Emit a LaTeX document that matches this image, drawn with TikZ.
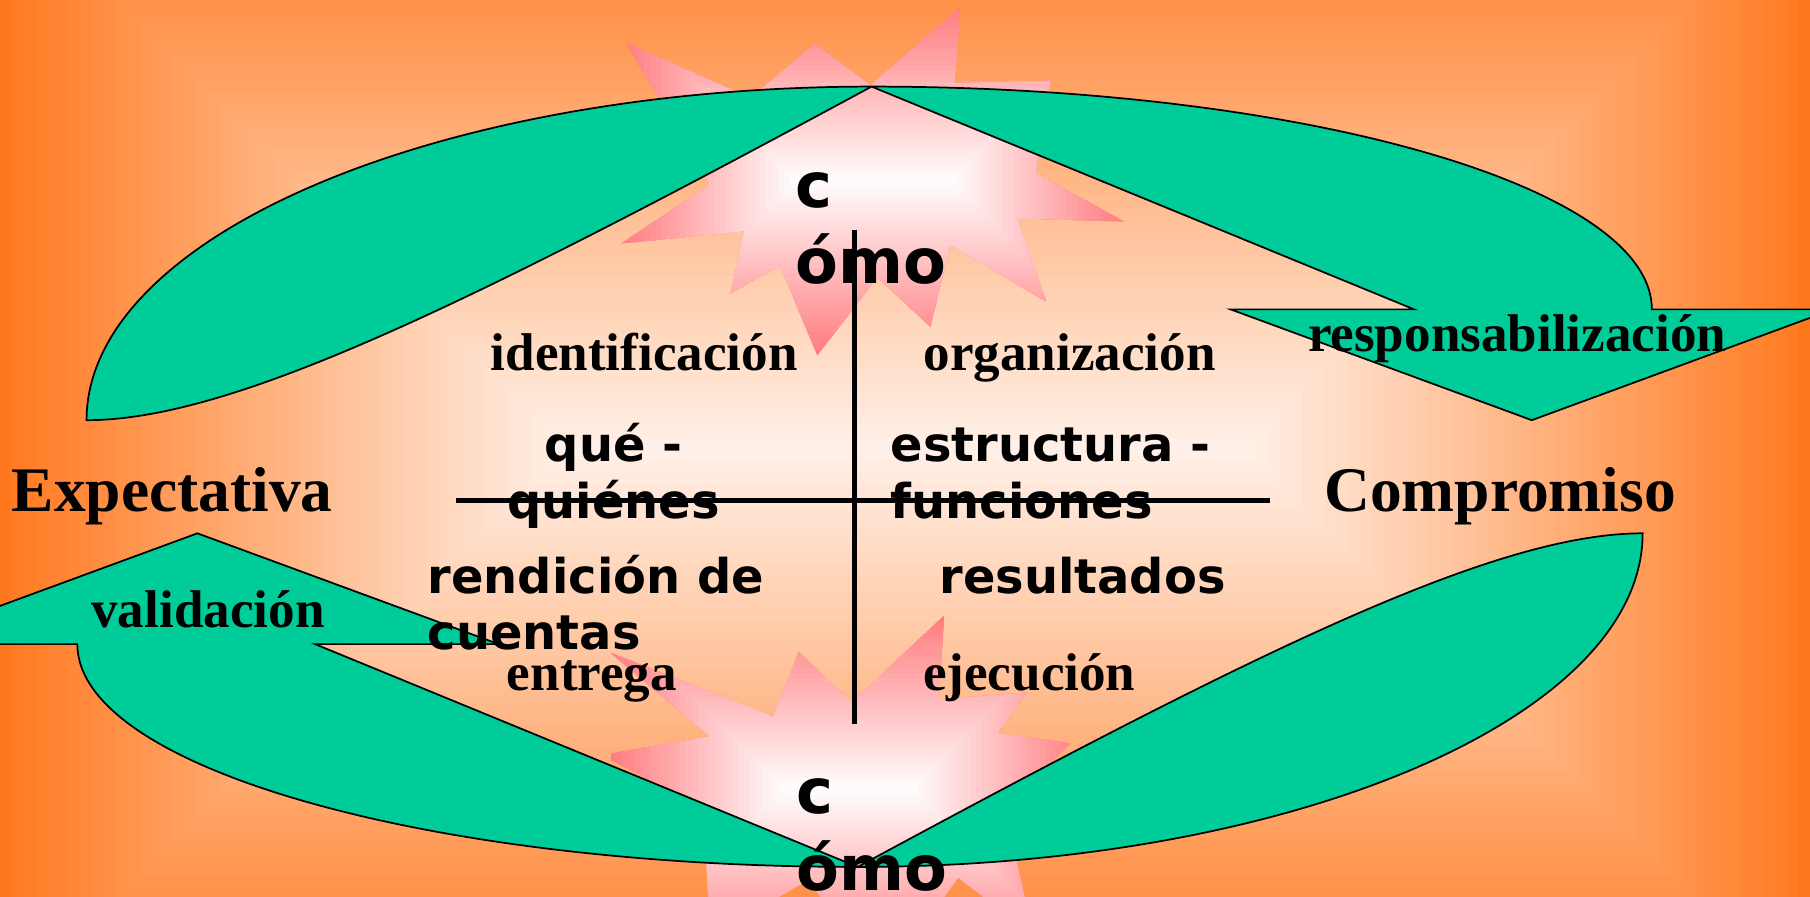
\documentclass[tikz,border=0pt]{standalone}
\usepackage{fontspec}
\setmainfont{Liberation Serif}
\newfontfamily\dejavu{DejaVu Sans}
\definecolor{edgeC}{RGB}{255,120,30}
\definecolor{centerC}{RGB}{255,242,234}
\definecolor{pinkC}{RGB}{255,125,128}
\definecolor{greenC}{RGB}{0,204,153}
\tikzset{
  serifbig/.style={font=\fontsize{55}{60}\selectfont\bfseries, inner sep=0pt, anchor=base west},
  serifmid/.style={font=\fontsize{46}{50}\selectfont\bfseries, inner sep=0pt, anchor=base west},
  sansmid/.style={font=\dejavu\fontsize{41.5}{49}\selectfont\bfseries, inner sep=0pt, anchor=base west},
  sansbig/.style={font=\dejavu\fontsize{54}{66}\selectfont\bfseries, inner sep=0pt, anchor=base west},
  arrowshape/.style={fill=greenC, draw=black, line width=1.5pt, line join=miter},
  crossline/.style={line width=4.5pt, black},
}
\begin{document}
\begin{tikzpicture}[x=1pt,y=-1pt]
\useasboundingbox (0,0) rectangle (1568,777);
\clip (0,0) rectangle (1568,777);
% background rectangular gradient
\foreach \i in {0,...,49} {
  \pgfmathsetmacro\k{-101+\i*10}
  \pgfmathtruncatemacro\p{100-\i*100/49}
  \fill[edgeC!\p!centerC] ({101+\k},{\k}) rectangle ({1467-\k},{777-\k});
}
% top star
\begin{scope}
  \clip (706,38) -- (754,74) -- (832,6) -- (827,72) -- (910,70) -- (897,150)
    -- (974,192) -- (881,189) -- (906,261) -- (823,212) -- (806,283) -- (760,240)
    -- (708,308) -- (676,230) -- (633,254) -- (645,200) -- (538,211) -- (615,160)
    -- (542,37) -- (650,85) -- cycle;
  \foreach \i in {0,...,30} {
    \pgfmathsetmacro\d{\i*151/30}
    \pgfmathtruncatemacro\p{100-\i*100/30}
    \fill[pinkC!\p!white] ({756-218+\d},{157-151+\d}) rectangle ({756+218-\d},{157+151-\d});
  }
\end{scope}
% bottom star
\begin{scope}
  \clip (692,565) -- (738,609) -- (818,533) -- (813,606) -- (890,600) -- (864,635)
    -- (927,644) -- (870,700) -- (895,810) -- (830,760) -- (765,850) -- (700,762)
    -- (615,812) -- (610,700) -- (521,654) -- (615,638) -- (528,565) -- (670,621) -- cycle;
  \foreach \i in {0,...,30} {
    \pgfmathsetmacro\d{\i*151/30}
    \pgfmathtruncatemacro\p{100-\i*100/30}
    \fill[pinkC!\p!white] ({735-206+\d},{684-151+\d}) rectangle ({735+206-\d},{684+151-\d});
  }
\end{scope}
% top curved arrow
\path[arrowshape] (75,364) .. controls (75,204.4) and (379.4,75) .. (755,75)
  .. controls (1128.4,75) and (1431,161.4) .. (1431,268)
  -- (1588,268) -- (1327,364) -- (1066,268) -- (1225,268) -- (755,75)
  .. controls (400,267) and (200,364) .. (75,364) -- cycle;
% bottom curved arrow (same shape turned round)
\begin{scope}[rotate around={180:(749,413)}]
\path[arrowshape] (75,364) .. controls (75,204.4) and (379.4,75) .. (755,75)
  .. controls (1128.4,75) and (1431,161.4) .. (1431,268)
  -- (1588,268) -- (1327,364) -- (1066,268) -- (1225,268) -- (755,75)
  .. controls (400,267) and (200,364) .. (75,364) -- cycle;
\end{scope}
% cross
\coordinate (vt) at (740,199);
\coordinate (vb) at (740,627);
\coordinate (hl) at (395,433.6);
\coordinate (hr) at (1100,433.6);
\draw[crossline] (vt) -- (vb);
\draw[crossline] (hl) -- (hr);
% texts
\node[serifbig] (expect) at (10,443) {Expectativa};
\node[serifbig] (comp) at (1147,443) {Compromiso};
\node[serifmid] (ident) at (425,321) {identificación};
\node[serifmid] (organ) at (800,321) {organización};
\node[serifmid] (resp) at (1133,304.5) {responsabilización};
\node[serifmid] (valid) at (79,544) {validación};
\node[serifmid] (entre) at (439,598.5) {entrega};
\node[serifmid] (ejec) at (799.5,598.5) {ejecución};
\node[sansmid, anchor=base] (que) at (531.5,399.8) {\begin{tabular}[t]{@{}c@{}}qué -\\quiénes\end{tabular}};
\node[sansmid] (estr) at (771.4,399.8) {\begin{tabular}[t]{@{}l@{}}estructura -\\funciones\end{tabular}};
\node[sansmid] (rend) at (370.3,513.8) {\begin{tabular}[t]{@{}l@{}}rendición de\\cuentas\end{tabular}};
\node[sansmid] (resu) at (813.7,513.8) {resultados};
\node[sansbig] (comotop) at (689,179.5) {\begin{tabular}[t]{@{}l@{}}c\\ómo\end{tabular}};
\node[sansbig] (comobot) at (690,705) {\begin{tabular}[t]{@{}l@{}}c\\ómo\end{tabular}};
\end{tikzpicture}
\end{document}
